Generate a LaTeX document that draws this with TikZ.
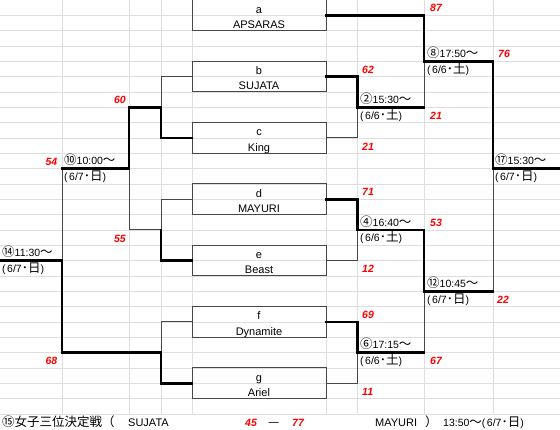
\documentclass[tikz,border=0pt]{standalone}
\usepackage{fontspec}
\setmainfont{Liberation Sans}
\newfontfamily\jpfont{Noto Sans CJK JP}
\newcommand\J[1]{{\jpfont\fontsize{12.5pt}{12.5pt}\selectfont #1}}
\begin{document}
\begin{tikzpicture}[x=1pt, y=-15.333pt,
  gridln/.style={draw=black!13, line width=0.9pt},
  box/.style={draw=black!72, line width=1pt, minimum width=134pt, minimum height=30.667pt, inner sep=0pt},
  win/.style={draw=black, line width=2.6pt, line cap=rect},
  lose/.style={draw=black!72, line width=1pt},
  lbl/.style={anchor=base west, inner sep=0pt, font=\fontsize{10.5pt}{12pt}\selectfont},
  team/.style={anchor=base, inner sep=0pt, font=\fontsize{11pt}{12pt}\selectfont},
  score/.style={inner sep=0pt, text=red, font=\fontsize{10.5pt}{12pt}\selectfont\bfseries\itshape},
  scw/.style={score, anchor=base west},
  sce/.style={score, anchor=base east}]
\useasboundingbox (0,0) rectangle (560,28.044);
% grid
\foreach \k in {1,...,27} \draw[gridln] (0,\k) -- (560,\k);
\foreach \c in {62,129,161,192,326,357.5,424,493} \draw[gridln] (\c,0) -- (\c,27);
% boxes
\node[box] (a) at (259,1) {};
\node[box] (b) at (259,5) {};
\node[box] (c) at (259,9) {};
\node[box] (d) at (259,13) {};
\node[box] (e) at (259,17) {};
\node[box] (f) at (259,21) {};
\node[box] (g) at (259,25) {};
% junctions
\coordinate (m2) at (357.5,7);
\coordinate (m8) at (424,4);
\coordinate (m17) at (493,11);
\coordinate (fin) at (560,11);
\coordinate (m4) at (357.5,15);
\coordinate (m6) at (357.5,23);
\coordinate (m12) at (424,19);
\coordinate (m12o) at (493,19);
\coordinate (l2) at (161,7);
\coordinate (l10) at (129,11);
\coordinate (l10o) at (62,11);
\coordinate (l4) at (161,15);
\coordinate (l14) at (62,17);
\coordinate (c14) at (0,17);
\coordinate (l6) at (161,23);
% losing paths
\draw[lose] (c.east) -| (m2);
\draw[lose] (m2 -| m8) -- (m8);
\draw[lose] (e.east) -| (m4);
\draw[lose] (g.east) -| (m6);
\draw[lose] (m6 -| m12) -- (m12);
\draw[lose] (m12o) -- (m17);
\draw[lose] (b.west) -| (l2);
\draw[lose] (l10) |- (l4);
\draw[lose] (d.west) -| (l4);
\draw[lose] (l10o) -- (l14);
\draw[lose] (f.west) -| (l6);
% winning paths
\draw[win] (a.east) -| (m8) -| (m17) -- (fin);
\draw[win] (b.east) -| (m2) -- (m2 -| m8);
\draw[win] (d.east) -| (m4) -| (m12) -- (m12o);
\draw[win] (f.east) -| (m6) -- (m6 -| m12);
\draw[win] (c.west) -| (l2) -| (l10) -- (l10o);
\draw[win] (e.west) -| (l4);
\draw[win] (c14) -- (l14) |- (l6) |- (g.west);
% team texts
\node[team] (a1) at (259,0.85) {a};
\node[team] (a2) at (259,1.86) {APSARAS};
\node[team] (b1) at (259,4.85) {b};
\node[team] (b2) at (259,5.86) {SUJATA};
\node[team] (c1) at (259,8.85) {c};
\node[team] (c2) at (259,9.86) {King};
\node[team] (d1) at (259,12.85) {d};
\node[team] (d2) at (259,13.86) {MAYURI};
\node[team] (e1) at (259,16.85) {e};
\node[team] (e2) at (259,17.86) {Beast};
\node[team] (f1) at (259,20.85) {f};
\node[team] (f2) at (259,21.86) {Dynamite};
\node[team] (g1) at (259,24.85) {g};
\node[team] (g2) at (259,25.86) {Ariel};
% match labels
\node[lbl] (t2a) at (360,6.76) {\J{②}15:30\J{～}};
\node[lbl] (t2b) at (360,7.78) {(\kern1.5pt 6/6\J{･土})};
\node[lbl] (t8a) at (427,3.76) {\J{⑧}17:50\J{～}};
\node[lbl] (t8b) at (427,4.78) {(\kern1.5pt 6/6\J{･土})};
\node[lbl] (t10a) at (64,10.76) {\J{⑩}10:00\J{～}};
\node[lbl] (t10b) at (64,11.78) {(\kern1.5pt 6/7\J{･日})};
\node[lbl] (t14a) at (2,16.76) {\J{⑭}11:30\J{～}};
\node[lbl] (t14b) at (2,17.78) {(\kern1.5pt 6/7\J{･日})};
\node[lbl] (t17a) at (495,10.76) {\J{⑰}15:30\J{～}};
\node[lbl] (t17b) at (495,11.78) {(\kern1.5pt 6/7\J{･日})};
\node[lbl] (t4a) at (360,14.76) {\J{④}16:40\J{～}};
\node[lbl] (t4b) at (360,15.78) {(\kern1.5pt 6/6\J{･土})};
\node[lbl] (t12a) at (427,18.76) {\J{⑫}10:45\J{～}};
\node[lbl] (t12b) at (427,19.78) {(\kern1.5pt 6/7\J{･日})};
\node[lbl] (t6a) at (360,22.76) {\J{⑥}17:15\J{～}};
\node[lbl] (t6b) at (360,23.78) {(\kern1.5pt 6/6\J{･土})};
% scores
\node[scw] (s87) at (430,0.78) {87};
\node[scw] (s76) at (498,3.78) {76};
\node[scw] (s62) at (362,4.78) {62};
\node[scw] (s21a) at (430,7.8) {21};
\node[scw] (s21b) at (362,9.8) {21};
\node[sce] (s60) at (126,6.78) {60};
\node[sce] (s54) at (57.5,10.78) {54};
\node[sce] (s55) at (126,15.8) {55};
\node[sce] (s68) at (57.5,23.8) {68};
\node[scw] (s71) at (362,12.78) {71};
\node[scw] (s53) at (430,14.78) {53};
\node[scw] (s12) at (362,17.8) {12};
\node[scw] (s22) at (497,19.8) {22};
\node[scw] (s69) at (362,20.78) {69};
\node[scw] (s67) at (430,23.8) {67};
\node[scw] (s11) at (362,25.8) {11};
% footer
\node[lbl] (ft1) at (2,27.83) {\J{⑮女子三位決定戦（}};
\node[team, anchor=base west] (ft2) at (128,27.83) {SUJATA};
\node[scw] (ft3) at (245,27.83) {45};
\node[lbl] (ft4) at (268,27.83) {\J{—}};
\node[scw] (ft5) at (292,27.83) {77};
\node[team, anchor=base west] (ft6) at (375,27.83) {MAYURI};
\node[lbl] (ft7) at (425,27.83) {\J{）}};
\node[lbl] (ft8) at (443,27.83) {13:50\J{～}(\kern1.5pt 6/7\J{･日})};
\end{tikzpicture}
\end{document}
